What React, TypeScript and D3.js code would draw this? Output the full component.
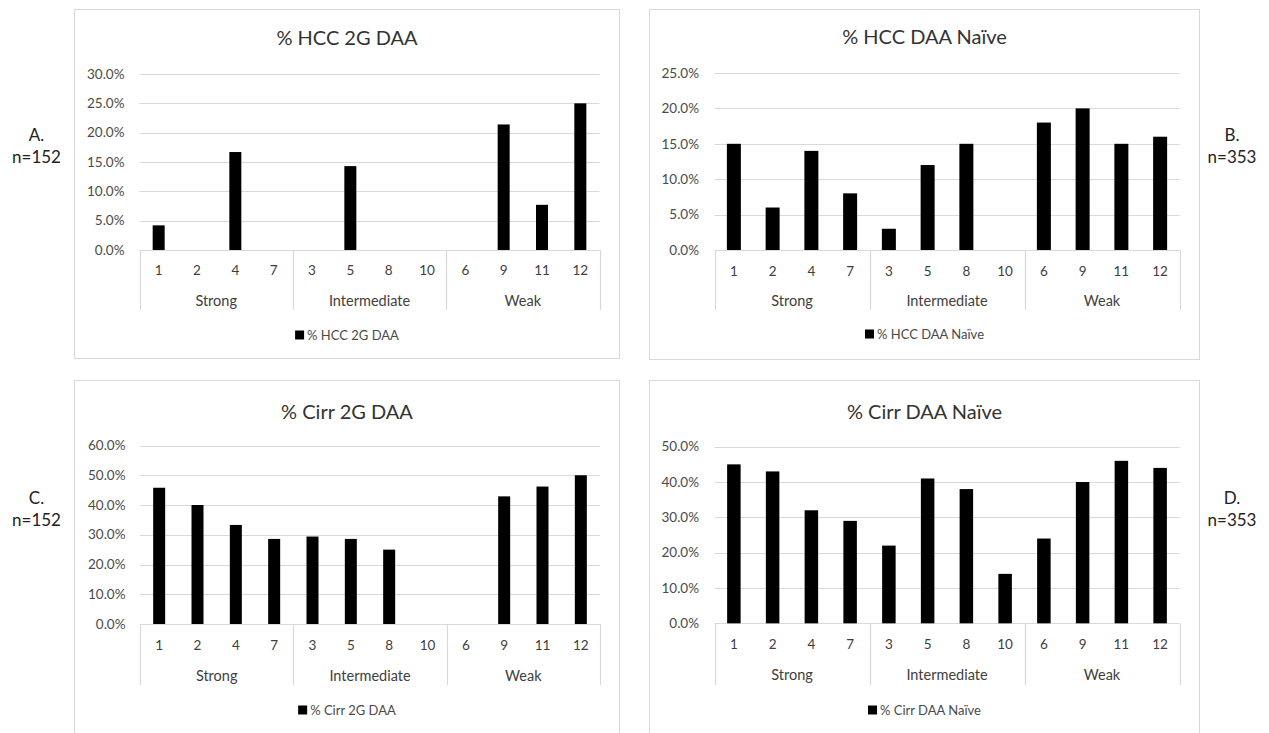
import React, {useEffect, useRef} from 'react';
import * as d3 from 'd3';

const codes = ['1', '2', '4', '7', '3', '5', '8', '10', '6', '9', '11', '12'];
const groups = ['Strong', 'Intermediate', 'Weak'];
const groupSize = 4;

const hcc2g = [4.2, 0, 16.7, 0, 0, 14.3, 0, 0, 0, 21.4, 7.7, 25.0];
const hccNaive = [15, 6, 14, 8, 3, 12, 15, 0, 18, 20, 15, 16];
const cirr2g = [45.8, 40, 33.3, 28.6, 29.4, 28.6, 25, 0, 0, 42.9, 46.2, 50];
const cirrNaive = [45, 43, 32, 29, 22, 41, 38, 14, 24, 40, 46, 44];

const ticksHcc2g = [0, 5, 10, 15, 20, 25, 30];
const ticksHccNaive = [0, 5, 10, 15, 20, 25];
const ticksCirr2g = [0, 10, 20, 30, 40, 50, 60];
const ticksCirrNaive = [0, 10, 20, 30, 40, 50];

const FONT = 'Lato, "Open Sans", sans-serif';

interface Panel {
  title: string;
  values: number[];
  ticks: number[];
  letter: string;
  n: string;
  box: {x: number; y: number; w: number; h: number};
  plot: {left: number; right: number; top: number; base: number};
  barW: number;
  titleY: number;
  catY: number;
  groupY: number;
  sepBottom: number;
  legendY: number;
  tickX: number;
  side: {x: number; y: number};
}

const panels: Panel[] = [
  {
    title: '% HCC 2G DAA', values: hcc2g, ticks: ticksHcc2g, letter: 'A.', n: 'n=152',
    box: {x: 74.5, y: 9.5, w: 545, h: 349},
    plot: {left: 139.5, right: 599.5, top: 74, base: 250},
    barW: 12, titleY: 38, catY: 270, groupY: 301, sepBottom: 310, legendY: 335, tickX: 124.5,
    side: {x: 36.5, y: 135},
  },
  {
    title: '% HCC DAA Naïve', values: hccNaive, ticks: ticksHccNaive, letter: 'B.', n: 'n=353',
    box: {x: 649.5, y: 9.5, w: 550, h: 350},
    plot: {left: 714.5, right: 1179.5, top: 73, base: 250},
    barW: 14, titleY: 37, catY: 271, groupY: 301, sepBottom: 310, legendY: 334, tickX: 699,
    side: {x: 1232, y: 135},
  },
  {
    title: '% Cirr 2G DAA', values: cirr2g, ticks: ticksCirr2g, letter: 'C.', n: 'n=152',
    box: {x: 74.5, y: 380.5, w: 545, h: 360},
    plot: {left: 140, right: 600, top: 445.5, base: 624},
    barW: 12, titleY: 412, catY: 645, groupY: 676, sepBottom: 685, legendY: 710, tickX: 125.5,
    side: {x: 36.5, y: 498},
  },
  {
    title: '% Cirr DAA Naïve', values: cirrNaive, ticks: ticksCirrNaive, letter: 'D.', n: 'n=353',
    box: {x: 649.5, y: 380.5, w: 550, h: 360},
    plot: {left: 714.5, right: 1179.5, top: 446.7, base: 623.3},
    barW: 13.5, titleY: 412, catY: 644, groupY: 675, sepBottom: 685, legendY: 710, tickX: 699,
    side: {x: 1232, y: 498},
  },
];

const App: React.FC = () => {
  const svgRef = useRef<SVGSVGElement | null>(null);

  useEffect(() => {
    if (!svgRef.current) return;
    const svg = d3.select(svgRef.current);
    svg.selectAll('*').remove();

    svg.append('rect').attr('width', 1269).attr('height', 733).attr('fill', '#fff');

    panels.forEach((p) => {
      const g = svg.append('g').style('font-family', FONT);

      g.append('rect')
        .attr('x', p.box.x)
        .attr('y', p.box.y)
        .attr('width', p.box.w)
        .attr('height', p.box.h)
        .attr('fill', '#fff')
        .attr('stroke', '#d9d9d9');

      const x = d3.scaleBand<string>().domain(codes).range([p.plot.left, p.plot.right]);
      const y = d3
        .scaleLinear()
        .domain([0, d3.max(p.ticks)!])
        .range([p.plot.base, p.plot.top]);

      // gridlines + y labels
      g.selectAll('.grid')
        .data(p.ticks)
        .enter()
        .append('line')
        .attr('x1', p.plot.left)
        .attr('x2', p.plot.right)
        .attr('y1', (d) => Math.round(y(d)) + 0.5)
        .attr('y2', (d) => Math.round(y(d)) + 0.5)
        .attr('stroke', '#d9d9d9')
        .attr('stroke-width', 1.2);

      g.selectAll('.ytick')
        .data(p.ticks)
        .enter()
        .append('text')
        .attr('x', p.tickX)
        .attr('y', (d) => y(d))
        .attr('dy', '0.35em')
        .attr('text-anchor', 'end')
        .attr('fill', '#4a4a4a')
        .style('font-size', '13.5px')
        .text((d) => d3.format('.1f')(d) + '%');

      // bars
      g.selectAll('.bar')
        .data(p.values)
        .enter()
        .append('rect')
        .attr('x', (_d, i) => x(codes[i])! + x.bandwidth() / 2 - p.barW / 2)
        .attr('y', (d) => y(d))
        .attr('width', p.barW)
        .attr('height', (d) => y(0) - y(d))
        .attr('fill', '#000');

      // category labels
      g.selectAll('.cat')
        .data(codes)
        .enter()
        .append('text')
        .attr('x', (d) => x(d)! + x.bandwidth() / 2)
        .attr('y', p.catY)
        .attr('dy', '0.35em')
        .attr('text-anchor', 'middle')
        .attr('fill', '#404040')
        .style('font-size', '13.5px')
        .text((d) => d);

      // group separators
      const seps = d3.range(groups.length + 1).map((k) =>
        k < groups.length ? x(codes[k * groupSize])! : p.plot.right
      );
      g.selectAll('.sep')
        .data(seps)
        .enter()
        .append('line')
        .attr('x1', (d) => Math.round(d) + 0.5)
        .attr('x2', (d) => Math.round(d) + 0.5)
        .attr('y1', p.plot.base)
        .attr('y2', p.sepBottom)
        .attr('stroke', '#d9d9d9')
        .attr('stroke-width', 1.2);

      g.selectAll('.grp')
        .data(groups)
        .enter()
        .append('text')
        .attr('x', (_d, k) => (seps[k] + seps[k + 1]) / 2)
        .attr('y', p.groupY)
        .attr('dy', '0.35em')
        .attr('text-anchor', 'middle')
        .attr('fill', '#404040')
        .style('font-size', '14.5px')
        .text((d) => d);

      // title
      g.append('text')
        .attr('x', p.box.x + p.box.w / 2)
        .attr('y', p.titleY)
        .attr('dy', '0.35em')
        .attr('text-anchor', 'middle')
        .attr('fill', '#333')
        .style('font-size', '20px')
        .text(p.title);

      // legend
      const lg = g.append('g');
      lg.append('rect').attr('x', 0).attr('y', -4.5).attr('width', 9).attr('height', 9).attr('fill', '#000');
      const lt = lg
        .append('text')
        .attr('x', 12)
        .attr('y', 0)
        .attr('dy', '0.35em')
        .attr('fill', '#4a4a4a')
        .style('font-size', '13px')
        .text(p.title);
      const tw = (lt.node() as SVGTextElement).getComputedTextLength();
      const lw = 12 + tw;
      lg.attr('transform', `translate(${p.box.x + p.box.w / 2 - lw / 2},${p.legendY})`);

      // side label
      g.append('text')
        .attr('x', p.side.x)
        .attr('y', p.side.y)
        .attr('dy', '0.35em')
        .attr('text-anchor', 'middle')
        .attr('fill', '#222')
        .style('font-size', '17px')
        .text(p.letter);
      g.append('text')
        .attr('x', p.side.x)
        .attr('y', p.side.y + 22)
        .attr('dy', '0.35em')
        .attr('text-anchor', 'middle')
        .attr('fill', '#222')
        .style('font-size', '17px')
        .text(p.n);
    });
  }, []);

  return (
    <svg
      ref={svgRef}
      width={1269}
      height={733}
      style={{position: 'absolute', left: 0, top: 0, display: 'block'}}
    />
  );
};

export default App;
